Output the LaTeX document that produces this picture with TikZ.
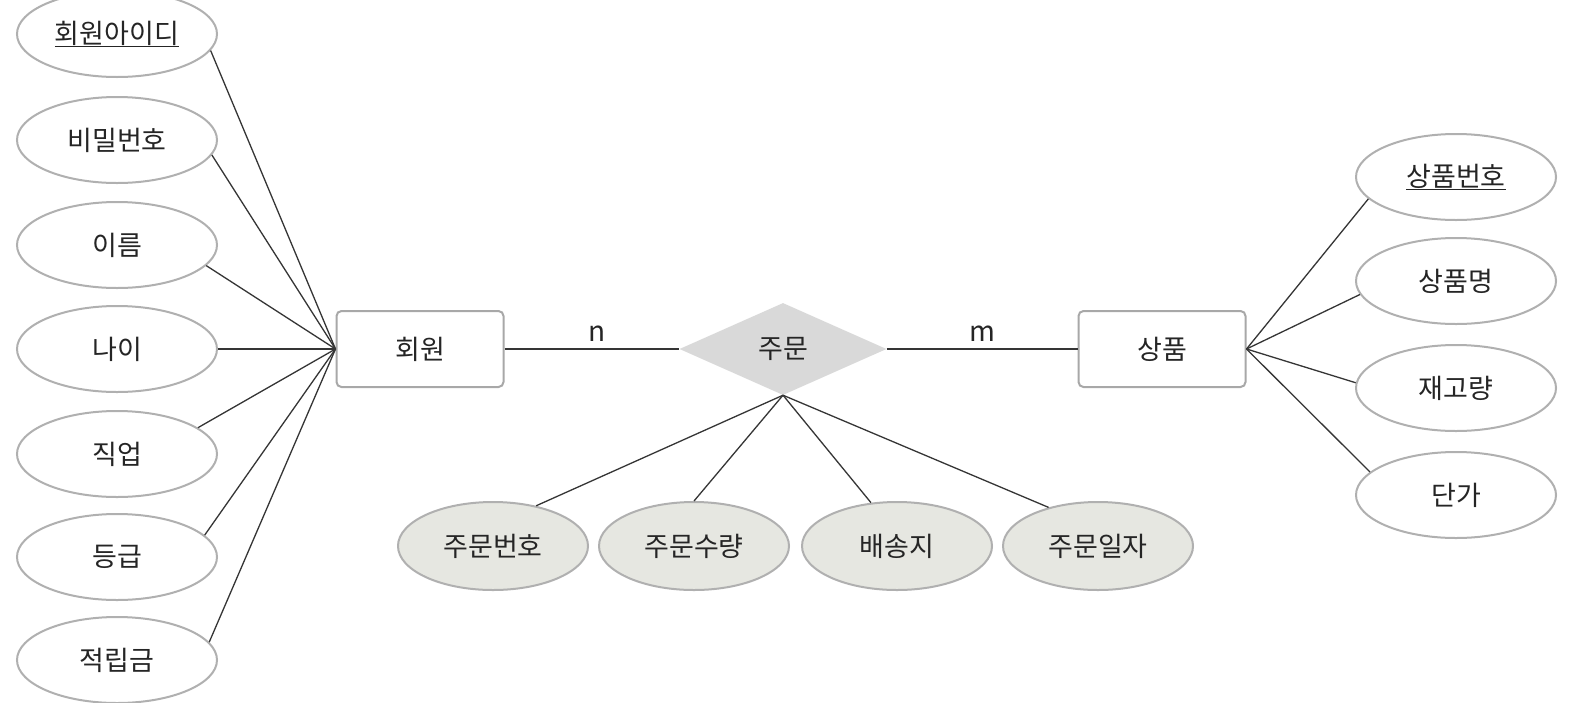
\documentclass[tikz,border=0pt]{standalone}
\usepackage{fontspec}
\setmainfont{Noto Sans CJK KR}
\usetikzlibrary{shapes.geometric}
\definecolor{attrline}{HTML}{B0B0B0}
\definecolor{boxline}{HTML}{A8A8A8}
\definecolor{relfill}{HTML}{E6E7E1}
\definecolor{diafill}{HTML}{D9D9D9}
\definecolor{connc}{HTML}{353535}
\definecolor{txt}{HTML}{252525}
\begin{document}
\begin{tikzpicture}[x=1pt,y=-1pt,
  attr/.style={ellipse, draw=attrline, line width=2pt, fill=white, minimum width=200pt, minimum height=86pt, inner sep=0pt, font=\fontsize{27}{32}\selectfont, text=txt},
  relattr/.style={attr, fill=relfill, minimum width=190pt, minimum height=88pt},
  entity/.style={rectangle, rounded corners=5pt, draw=boxline, line width=2pt, fill=white, minimum width=167pt, minimum height=76pt, inner sep=0pt, font=\fontsize{27}{32}\selectfont, text=txt},
  rel/.style={diamond, fill=diafill, minimum width=207pt, minimum height=92pt, inner sep=0pt, font=\fontsize{27}{32}\selectfont, text=txt},
  conn/.style={draw=connc, line width=1.3pt},
  card/.style={font=\fontsize{28}{32}\selectfont, text=txt}]
\useasboundingbox (0,0) rectangle (1594,702);
\fill[white] (0,0) rectangle (1594,702);

% entities and relationship
\node[entity] (member) at (420,349) {회원};
\node[rel] (order) at (783,349) {주문};
\node[entity] (product) at (1162,349) {상품};

% member attributes
\node[attr] (a1) at (117,34) {\underline{회원아이디}};
\node[attr] (a2) at (117,140) {비밀번호};
\node[attr] (a3) at (117,245) {이름};
\node[attr] (a4) at (117,349) {나이};
\node[attr] (a5) at (117,454) {직업};
\node[attr] (a6) at (117,557) {등급};
\node[attr] (a7) at (117,660) {적립금};

% product attributes
\node[attr] (p1) at (1456,177) {\underline{상품번호}};
\node[attr] (p2) at (1456,281) {상품명};
\node[attr] (p3) at (1456,388) {재고량};
\node[attr] (p4) at (1456,495) {단가};

% relationship attributes
\node[relattr] (r1) at (493,546) {주문번호};
\node[relattr] (r2) at (694,546) {주문수량};
\node[relattr] (r3) at (897,546) {배송지};
\node[relattr] (r4) at (1098,546) {주문일자};

% connectors
\draw[conn] (member.east) -- node[card, above=4pt, pos=0.53] (n) {n} (order.west);
\draw[conn] (order.east) -- node[card, above=4pt, pos=0.5] (m) {m} (product.west);

\draw[conn] (a1.-10) -- (member.west);
\draw[conn] (a2.-9) -- (member.west);
\draw[conn] (a3.-13) -- (member.west);
\draw[conn] (a4.east) -- (member.west);
\draw[conn] (a5.18) -- (member.west);
\draw[conn] (a6.14) -- (member.west);
\draw[conn] (a7.11) -- (member.west);

\draw[conn] (p1.194) -- (product.east);
\draw[conn] (p2.188) -- (product.east);
\draw[conn] (p3.177) -- (product.east);
\draw[conn] (p4.165) -- (product.east);

\draw[conn] (r1.43) -- (order.south);
\draw[conn] (r2.90) -- (order.south);
\draw[conn] (r3.121) -- (order.south);
\draw[conn] (r4.142) -- (order.south);
\end{tikzpicture}
\end{document}
